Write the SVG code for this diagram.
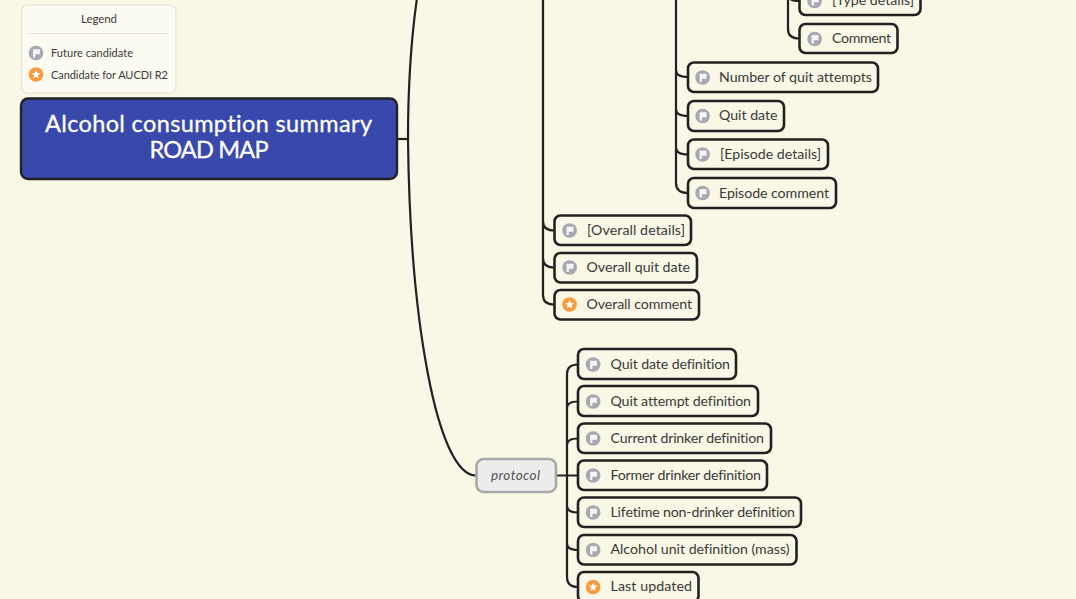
<svg xmlns="http://www.w3.org/2000/svg" width="1076" height="599" viewBox="0 0 1076 599">
<style>
text{font-family:"Lato","Open Sans","Liberation Sans",sans-serif;font-variant-ligatures:none;}
.n rect{fill:#f9f7e5;stroke:#222;stroke-width:2.6;}
.n text{font-size:14.2px;fill:#3a3a3a;transform:translateY(-.6px);}
.n use{transform:translateX(-.4px);}
.c path{fill:none;stroke:#222;stroke-width:2.2;}
</style>
<defs>
<g id="flag"><circle r="7.300" fill="#a8a8b0"/><path d="M-3-3.700H3.900V1.200H-0.700V4.600H-3Z" fill="#f6f6f6"/></g>
<g id="star"><circle r="7.300" fill="#fb9a3c"/><path d="M0-4.400L1.300-1.500 4.400-1.200 2 .8 2.700 3.800 0 2.200 -2.700 3.800-2 .8-4.400-1.200-1.300-1.500Z" fill="#fff"/></g>
</defs>
<rect width="1076" height="599" fill="#f9f7e5"/>
<g id="connectors" class="c">
<path d="M397 139H408"/>
<path d="M417 -2C411 40 408 90 408 139C410 320 437 475 476 475.500"/>
<path d="M543 0V221Q543 230.500 554 230.500M543 220V258Q543 267.500 554 267.500M543 258V295Q543 304.500 554 304.500"/>
<path d="M676 0V183Q676 193 688 193M676 70Q676 77 688 77M676 109Q676 116 688 116M676 147.500Q676 154.500 688 154.500"/>
<path d="M788 0V29Q788 38.500 799 38.500M788 -6Q788 1 799 1"/>
<path d="M556 475.500H578M578 364.500Q567 364.500 567 374V577Q567 587 578 587M578 401.500Q567 401.500 567 408M578 438.500Q567 438.500 567 445M567 506Q567 512.500 578 512.500M567 543.500Q567 550 578 550"/>
</g>
<g id="legend">
<rect x="21.500" y="5" width="154.500" height="88" rx="6" fill="#fcfbf2" stroke="#e6e4d8" stroke-width="1.200"/>
<text x="81" y="23" font-size="11.500" fill="#3a3a3a" textLength="36">Legend</text>
<path d="M29 33.500H168" stroke="#e2e0d6" stroke-width="1"/>
<use href="#flag" x="36" y="53"/>
<text x="51" y="57" font-size="11" fill="#3a3a3a" textLength="82">Future candidate</text>
<use href="#star" x="36" y="74.500"/>
<text x="51" y="78.500" font-size="11" fill="#3a3a3a" textLength="117">Candidate for AUCDI R2</text>
</g>
<g id="root">
<rect x="21" y="98.500" width="376" height="80.500" rx="7" fill="#3949ab" stroke="#222" stroke-width="2.400"/>
<text x="45" y="132" font-size="23.500" fill="#fff" stroke="#fff" stroke-width=".3" textLength="327">Alcohol consumption summary</text>
<text x="149.500" y="158" font-size="23.500" fill="#fff" stroke="#fff" stroke-width=".3" textLength="119">ROAD MAP</text>
</g>
<g id="protocol">
<rect x="476.500" y="459" width="79.500" height="33" rx="7" fill="#ededed" stroke="#a8a8a8" stroke-width="2.600"/>
<text x="491" y="480" font-size="13.500" font-style="italic" fill="#555" textLength="49">protocol</text>
</g>
<g id="n1" class="n"><rect x="799.500" y="-14" width="121" height="29" rx="6"/><use href="#flag" x="815" y="1"/><text x="832" y="6" textLength="82">[Type details]</text></g>
<g id="n2" class="n"><rect x="799.500" y="24" width="98" height="29" rx="6"/><use href="#flag" x="815" y="39"/><text x="832" y="44" textLength="59">Comment</text></g>
<g id="n3" class="n"><rect x="688" y="62.500" width="190" height="29.500" rx="6"/><use href="#flag" x="703" y="77.500"/><text x="719" y="82.500" textLength="153">Number of quit attempts</text></g>
<g id="n4" class="n"><rect x="688" y="101" width="96" height="30" rx="6"/><use href="#flag" x="703" y="116"/><text x="719" y="121" textLength="58.500">Quit date</text></g>
<g id="n5" class="n"><rect x="688" y="139.500" width="140" height="29.500" rx="6"/><use href="#flag" x="703" y="154.500"/><text x="720" y="160" textLength="101">[Episode details]</text></g>
<g id="n6" class="n"><rect x="688" y="178" width="148" height="30" rx="6"/><use href="#flag" x="703" y="193"/><text x="719" y="198.500" textLength="110">Episode comment</text></g>
<g id="n7" class="n"><rect x="554.500" y="215.500" width="136.500" height="29.500" rx="6"/><use href="#flag" x="570" y="230.500"/><text x="587" y="236" textLength="98">[Overall details]</text></g>
<g id="n8" class="n"><rect x="554.500" y="253" width="142.500" height="29.500" rx="6"/><use href="#flag" x="570" y="267.500"/><text x="586.500" y="273" textLength="103.500">Overall quit date</text></g>
<g id="n9" class="n"><rect x="554.500" y="290" width="144.500" height="29.500" rx="6"/><use href="#star" x="570" y="304.500"/><text x="586.500" y="310" textLength="105.500">Overall comment</text></g>
<g id="n10" class="n"><rect x="578" y="349" width="158" height="30" rx="6"/><use href="#flag" x="593.500" y="364.500"/><text x="610.500" y="370" textLength="119.500">Quit date definition</text></g>
<g id="n11" class="n"><rect x="578" y="386" width="180" height="30" rx="6"/><use href="#flag" x="593.500" y="401.500"/><text x="610.500" y="407" textLength="140.500">Quit attempt definition</text></g>
<g id="n12" class="n"><rect x="578" y="423.500" width="193" height="29.500" rx="6"/><use href="#flag" x="593.500" y="438.500"/><text x="610.500" y="444" textLength="153.500">Current drinker definition</text></g>
<g id="n13" class="n"><rect x="578" y="460.500" width="189" height="29.500" rx="6"/><use href="#flag" x="593.500" y="475.500"/><text x="610.500" y="481" textLength="150.500">Former drinker definition</text></g>
<g id="n14" class="n"><rect x="578" y="497.500" width="223" height="29.500" rx="6"/><use href="#flag" x="593.500" y="512.500"/><text x="610.500" y="518" textLength="184.500">Lifetime non-drinker definition</text></g>
<g id="n15" class="n"><rect x="578" y="535" width="218.500" height="29.500" rx="6"/><use href="#flag" x="593.500" y="550"/><text x="610.500" y="555" textLength="179">Alcohol unit definition (mass)</text></g>
<g id="n16" class="n"><rect x="578" y="572" width="120.500" height="30" rx="6"/><use href="#star" x="593.500" y="587"/><text x="610.500" y="592" textLength="81.500">Last updated</text></g>
</svg>
